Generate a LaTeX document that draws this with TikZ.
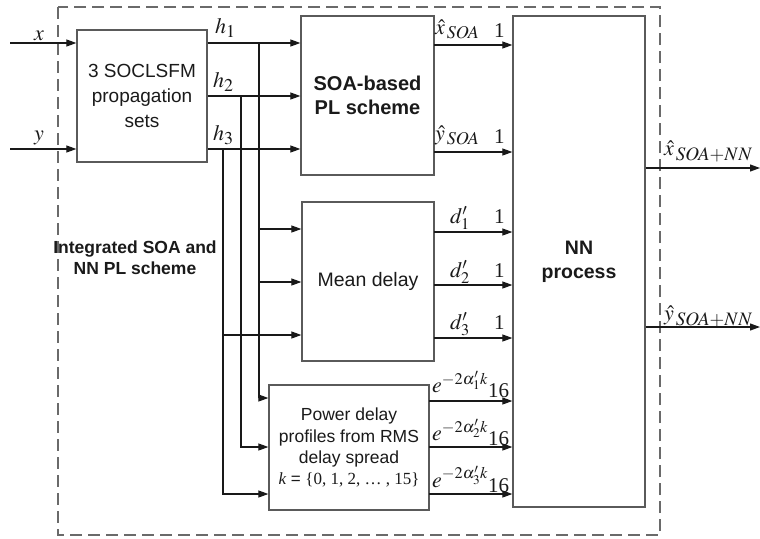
\documentclass[tikz,border=0pt]{standalone}
\usepackage{mathptmx}
\usepackage[no-math]{fontspec}
\newfontfamily\arial{Liberation Sans}
\newfontfamily\tnr{Liberation Serif}
\usetikzlibrary{arrows.meta}
\definecolor{boxgray}{HTML}{5A5A5A}
\definecolor{dashgray}{HTML}{6A6A6A}
\definecolor{txt}{HTML}{1A1A1A}
\newcommand\mysub[2][18]{\mbox{\fontsize{#1}{#1}\selectfont$#2$}}
\begin{document}
\begin{tikzpicture}[x=1pt,y=-1pt,
  box/.style={draw=boxgray, line width=1.3pt, inner sep=0pt, align=center, text=txt},
  wire/.style={draw=black!90, line width=1.1pt},
  arr/.style={wire, -{Triangle[length=10pt,width=7pt]}},
  lab/.style={inner sep=0pt, text=txt, font=\fontsize{22}{24}\selectfont},
  num/.style={inner sep=0pt, text=txt, font=\fontsize{21}{22}\selectfont\tnr}]
\useasboundingbox (0,0) rectangle (760,538);
\fill[white] (0,0) rectangle (760,538);
% outer dashed frame
\draw[draw=dashgray, line width=1.3pt, dash pattern=on 12pt off 6pt] (58,7) rectangle (660,535);
% boxes
\node[box, minimum width=130pt, minimum height=132pt, font=\fontsize{19}{25}\selectfont\arial] (prop) at (142,96) {3 SOCLSFM\\propagation\\sets};
\node[box, minimum width=133pt, minimum height=159pt, font=\fontsize{20}{24}\selectfont\arial\bfseries] (soa) at (367.5,95.5) {SOA-based\\PL scheme};
\node[box, minimum width=132pt, minimum height=159pt, font=\fontsize{19.5}{24}\selectfont\arial] (mean) at (368,281.5) {Mean delay};
\node[box, minimum width=160pt, minimum height=125pt, font=\fontsize{17.5}{21.5}\selectfont\arial] (pdp) at (349,447.5) {Power delay\\profiles from RMS\\delay spread\\[-1pt]{\fontsize{17}{20}\selectfont{\tnr\itshape k} = {\tnr\{0, 1, 2, \ldots\ , 15\}}}};
\node[box, minimum width=132pt, minimum height=491pt, font=\fontsize{19.5}{24}\selectfont\arial\bfseries] (nn) at (579,261.5) {NN\\process};
\node[inner sep=0pt, align=center, text=txt, font=\fontsize{17.5}{21}\selectfont\arial\bfseries] (intg) at (135,258) {Integrated SOA and\\NN PL scheme};
% coordinates
\coordinate (xin) at (10,43);
\coordinate (yin) at (10,149);
\coordinate (j1) at (259,43);
\coordinate (j2) at (241,96);
\coordinate (j3) at (223,149);
\coordinate (p1) at (259,398);
\coordinate (p2) at (241,447);
\coordinate (p3) at (223,494);
\coordinate (m1) at (259,229);
\coordinate (m2) at (259,282);
\coordinate (m3) at (223,335);
\coordinate (ox) at (760,168);
\coordinate (oy) at (760,327);
% inputs
\draw[arr] (xin) -- (xin -| prop.west);
\draw[arr] (yin) -- (yin -| prop.west);
% h lines
\draw[arr] (j1 -| prop.east) -- (j1 -| soa.west);
\draw[arr] (j2 -| prop.east) -- (j2 -| soa.west);
\draw[arr] (j3 -| prop.east) -- (j3 -| soa.west);
% verticals
\draw[arr] (j1) -- (p1) -- (p1 -| pdp.west);
\draw[arr] (j2) -- (p2) -- (p2 -| pdp.west);
\draw[arr] (j3) -- (p3) -- (p3 -| pdp.west);
\draw[arr] (m1) -- (m1 -| mean.west);
\draw[arr] (m2) -- (m2 -| mean.west);
\draw[arr] (m3) -- (m3 -| mean.west);
% outputs to NN
\coordinate (s1) at (434,45);
\coordinate (s2) at (434,152);
\coordinate (d1) at (434,232);
\coordinate (d2) at (434,285);
\coordinate (d3) at (434,338);
\coordinate (e1) at (429,401);
\coordinate (e2) at (429,447);
\coordinate (e3) at (429,494);
\foreach \c in {s1,s2,d1,d2,d3,e1,e2,e3} {\draw[arr] (\c) -- (\c -| nn.west);}
\draw[arr] (ox -| nn.east) -- (ox);
\draw[arr] (oy -| nn.east) -- (oy);
% labels
\node[lab, anchor=base west] (lx) at (34,40) {$x$};
\node[lab, anchor=base west] (ly) at (34,140) {$y$};
\node[lab, anchor=base west] (lh1) at (215,33) {$h_{\mysub{1}}$};
\node[lab, anchor=base west] (lh2) at (213,87) {$h_{\mysub{2}}$};
\node[lab, anchor=base west] (lh3) at (213,140) {$h_{\mysub{3}}$};
\node[lab, anchor=base west] (lxs) at (435,34) {$\hat{x}_{\,\mysub{SOA}}$};
\node[num, anchor=base west] (n1) at (494,37) {1};
\node[lab, anchor=base west] (lys) at (435,140) {$\hat{y}_{\,\mysub{SOA}}$};
\node[num, anchor=base west] (n2) at (494,143) {1};
\node[lab, anchor=base west] (ld1) at (450,223) {$d_1'$};
\node[num, anchor=base west] (n3) at (494,223) {1};
\node[lab, anchor=base west] (ld2) at (450,277) {$d_2'$};
\node[num, anchor=base west] (n4) at (494,277) {1};
\node[lab, anchor=base west] (ld3) at (450,329) {$d_3'$};
\node[num, anchor=base west] (n5) at (494,329) {1};
\node[lab, anchor=base west] (le1) at (432,392) {$e^{-2\alpha_1'k}$};
\node[num, anchor=base west] (n6) at (488,397) {16};
\node[lab, anchor=base west] (le2) at (432,440) {$e^{-2\alpha_2'k}$};
\node[num, anchor=base west] (n7) at (488,445) {16};
\node[lab, anchor=base west] (le3) at (432,487) {$e^{-2\alpha_3'k}$};
\node[num, anchor=base west] (n8) at (488,492) {16};
\node[lab, anchor=base west] (lxo) at (664,155) {$\hat{x}_{\,\mysub[19]{SOA{+}NN}}$};
\node[lab, anchor=base west] (lyo) at (664,320) {$\hat{y}_{\,\mysub[19]{SOA{+}NN}}$};
\end{tikzpicture}
\end{document}
